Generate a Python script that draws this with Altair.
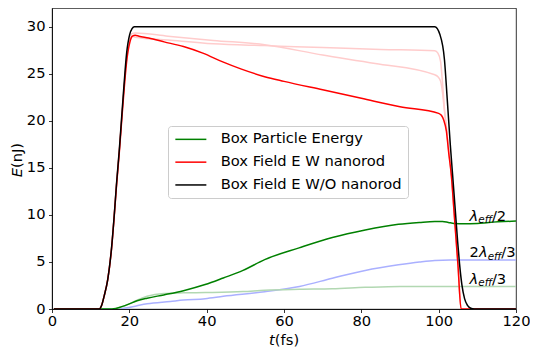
import altair as alt
import pandas as pd

FONT = "DejaVu Sans"
FS = 14.7

# ---------------- data ----------------
series_names = ["Box Particle Energy", "Box Field E W nanorod", "Box Field E W/O nanorod"]
series_colors = ["#008000", "#ff0000", "#000000"]

x_ticks = [0, 20, 40, 60, 80, 100, 120]
y_ticks = [0, 5, 10, 15, 20, 25, 30]

t_black = [0.5, 12.2, 12.8, 13.5, 14.4, 15.4, 16.1, 16.7, 17.4, 18.0, 18.6, 19.3, 20.1, 20.7, 21.3, 22.5,
           60, 99.0, 100.3, 101.5, 102.2, 103.0, 103.6, 104.3, 104.9, 105.4, 106.0, 106.7, 107.5, 108.3,
           109.2, 120]
e_black = [0, 0, 0.35, 1.4, 3.1, 6.5, 10.0, 13.4, 16.9, 20.3, 23.7, 27.2, 29.2, 29.8, 30.0, 30.0,
           30.0, 30.0, 29.2, 26.5, 22.4, 17.5, 14.3, 10.5, 7.2, 4.8, 2.6, 1.1, 0.35, 0.08,
           0, 0]

t_red = [0.5, 12.2, 12.8, 13.5, 14.4, 15.4, 16.1, 16.7, 17.4, 18.0, 18.6, 19.3, 20.1, 20.8, 21.5, 22.5,
         25, 29, 34, 39, 44, 49, 55, 60, 70, 80, 90, 100, 100.7, 101.3, 102.0, 102.6, 103.3, 104.0,
         105.0, 105.8, 107, 120]
e_red = [0, 0, 0.35, 1.4, 3.1, 6.4, 9.9, 13.2, 16.6, 19.9, 23.1, 26.3, 28.3, 29.0, 29.1, 29.0,
         28.8, 28.4, 27.9, 27.2, 26.3, 25.5, 24.7, 24.2, 23.3, 22.4, 21.5, 20.8, 20.6, 20.1, 18.9, 16.6,
         14.1, 10.2, 4.6, 0, 0, 0]

t_pinkA = [0.5, 12.2, 12.8, 13.5, 14.4, 15.4, 16.1, 16.7, 17.4, 18.0, 18.6, 19.3, 20.1, 20.8, 21.5,
           30, 41.7, 55, 70, 83.6, 99, 99.8, 100.5, 101.0, 101.5, 102.0, 102.6, 103.3, 104.0, 105.0,
           105.8, 120]
e_pinkA = [0, 0, 0.35, 1.4, 3.1, 6.45, 9.95, 13.3, 16.8, 20.1, 23.4, 26.8, 28.8, 29.3, 29.35,
           29.0, 28.55, 28.1, 27.0, 26.1, 24.9, 24.7, 24.2, 23.0, 21.0, 19.2, 16.8, 14.2, 10.3, 4.7,
           0, 0]

t_pinkB = [0.5, 12.2, 12.8, 13.5, 14.4, 15.4, 16.1, 16.7, 17.4, 18.0, 18.6, 19.3, 20.1, 20.8, 21.5,
           30, 41.7, 55, 70, 85, 99, 99.8, 100.5, 101.0, 101.5, 102.0, 102.6, 103.3, 104.0, 105.0,
           105.8, 120]
e_pinkB = [0, 0, 0.35, 1.4, 3.1, 6.45, 9.95, 13.3, 16.8, 20.1, 23.4, 26.6, 28.6, 29.0, 28.9,
           28.6, 28.2, 28.0, 27.8, 27.6, 27.45, 27.2, 26.3, 24.0, 21.3, 19.3, 16.9, 14.3, 10.4, 4.8,
           0, 0]

t_green = [0.5, 15.5, 16.5, 18, 20, 22, 24.6, 28.9, 34, 39.6, 44.3, 49.4, 55, 63.9, 72.5, 81, 89.6,
           95, 99, 101, 102.5, 104, 106.7, 110, 113, 120]
e_green = [0, 0, 0.05, 0.25, 0.55, 0.87, 1.15, 1.5, 1.95, 2.6, 3.3, 4.1, 5.25, 6.5, 7.6, 8.4, 9.0,
           9.2, 9.3, 9.3, 9.2, 9.1, 9.05, 9.1, 9.2, 9.35]

t_blue = [0.5, 17, 19, 22, 24.6, 30.6, 34, 39.6, 44.3, 55, 64, 72.5, 81, 89.6, 95, 99, 103, 120]
e_blue = [0, 0, 0.1, 0.35, 0.55, 0.8, 0.95, 1.1, 1.35, 1.83, 2.4, 3.27, 4.1, 4.7, 5.0, 5.16, 5.2, 5.2]

t_lgreen = [0.5, 16, 18, 20, 22, 24.6, 28.9, 34, 39.6, 49.4, 55, 64, 72.5, 81, 90, 100, 120]
e_lgreen = [0, 0, 0.2, 0.55, 0.95, 1.35, 1.65, 1.72, 1.75, 1.85, 2.0, 2.1, 2.15, 2.3, 2.4, 2.4, 2.4]

# annotation labels (lambda_eff fractions)
ann_t = [108, 108, 108]
ann_e = [9.4, 5.5, 2.7]
ann_prefix = ["", "2", ""]
ann_denom = ["/2", "/3", "/3"]

# ---------------- chart ----------------
W, H = 464, 301
x_scale = alt.Scale(domain=[0, 120], nice=False, zero=False)
y_scale = alt.Scale(domain=[0, 32], nice=False, zero=False)
color_scale = alt.Scale(domain=series_names, range=series_colors)

x_enc = alt.X("t:Q", scale=x_scale,
              axis=alt.Axis(values=x_ticks, title=None, labelFlush=False, labelPadding=1, format="d"))
y_enc = alt.Y("E:Q", scale=y_scale,
              axis=alt.Axis(values=y_ticks, title=None, labelFlush=False, labelPadding=3.5, format="d"))

legend = alt.Legend(title=None, orient="none", legendX=116, legendY=118,
                    symbolType="M-1.2,0L5,0", symbolSize=100, symbolStrokeWidth=1.5,
                    labelFont=FONT, labelFontSize=FS, labelColor="black", labelOffset=32,
                    labelLimit=400, rowPadding=6.8, padding=6, cornerRadius=3,
                    fillColor="rgba(255,255,255,0.8)", strokeColor="#cccccc")


def frame(t, e, name):
    return pd.DataFrame({"t": t, "E": e, "series": name})


def light(t, e, color):
    return alt.Chart(frame(t, e, "light")).mark_line(
        strokeWidth=1.5, interpolate="monotone", clip=True
    ).encode(x=x_enc, y=y_enc, color=alt.value(color))


def main(t, e, name):
    return alt.Chart(frame(t, e, name)).mark_line(
        strokeWidth=1.5, interpolate="monotone", clip=True
    ).encode(x=x_enc, y=y_enc, color=alt.Color("series:N", scale=color_scale, legend=legend))


layers = [
    light(t_pinkB, e_pinkB, "#ffcccc"),
    light(t_pinkA, e_pinkA, "#ffcccc"),
    light(t_blue, e_blue, "#aab0ff"),
    light(t_lgreen, e_lgreen, "#b2d8b2"),
    main(t_green, e_green, series_names[0]),
    main(t_red, e_red, series_names[1]),
    main(t_black, e_black, series_names[2]),
]

LAM_W = 8.7     # width of italic lambda
SUB_W = 13.6    # width of subscript "eff"
DIGIT_W = 9.35  # width of a digit

for t, e, pre, den in zip(ann_t, ann_e, ann_prefix, ann_denom):
    d = pd.DataFrame({"t": [t], "E": [e]})
    base = alt.Chart(d).encode(x=x_enc, y=y_enc)
    off = 0.0
    if pre:
        layers.append(base.mark_text(align="left", baseline="alphabetic", font=FONT, fontSize=FS,
                                     color="black").encode(text=alt.value(pre)))
        off = DIGIT_W
    layers.append(base.mark_text(align="left", baseline="alphabetic", font=FONT, fontSize=FS,
                                 fontStyle="italic", color="black", dx=off).encode(text=alt.value("λ")))
    layers.append(base.mark_text(align="left", baseline="alphabetic", font=FONT, fontSize=10.3,
                                 fontStyle="italic", color="black", dx=off + LAM_W, dy=2.8
                                 ).encode(text=alt.value("eff")))
    layers.append(base.mark_text(align="left", baseline="alphabetic", font=FONT, fontSize=FS,
                                 color="black", dx=off + LAM_W + SUB_W).encode(text=alt.value(den)))

# axis titles with italic variable names
one = pd.DataFrame({"a": [0]})
XT = W / 2 - 9.15
layers.append(alt.Chart(one).mark_text(align="right", baseline="alphabetic", font=FONT, fontSize=FS,
                                       fontStyle="italic", color="black")
              .encode(x=alt.value(XT), y=alt.value(337), text=alt.value("t")))
layers.append(alt.Chart(one).mark_text(align="left", baseline="alphabetic", font=FONT, fontSize=FS,
                                       color="black")
              .encode(x=alt.value(XT), y=alt.value(337), text=alt.value("(fs)")))
layers.append(alt.Chart(one).mark_text(align="right", baseline="middle", font=FONT, fontSize=FS,
                                       fontStyle="italic", color="black", angle=270)
              .encode(x=alt.value(-34), y=alt.value(160), text=alt.value("E")))
layers.append(alt.Chart(one).mark_text(align="left", baseline="middle", font=FONT, fontSize=FS,
                                       color="black", angle=270)
              .encode(x=alt.value(-34), y=alt.value(160), text=alt.value("(nJ)")))

chart = alt.layer(*layers).properties(
    width=W, height=H,
    padding={"left": 44, "top": 0, "right": 14, "bottom": 38},
    autosize=alt.AutoSizeParams(type="none"),
    background="white",
).configure_view(
    stroke="black", strokeWidth=0.8
).configure_axis(
    labelFont=FONT, labelFontSize=FS, labelColor="black",
    tickColor="black", domainColor="black", tickSize=3.5, tickWidth=0.8, domainWidth=0.8,
    grid=False,
)

chart.save("out.html", embed_options={"renderer": "svg", "actions": False})
